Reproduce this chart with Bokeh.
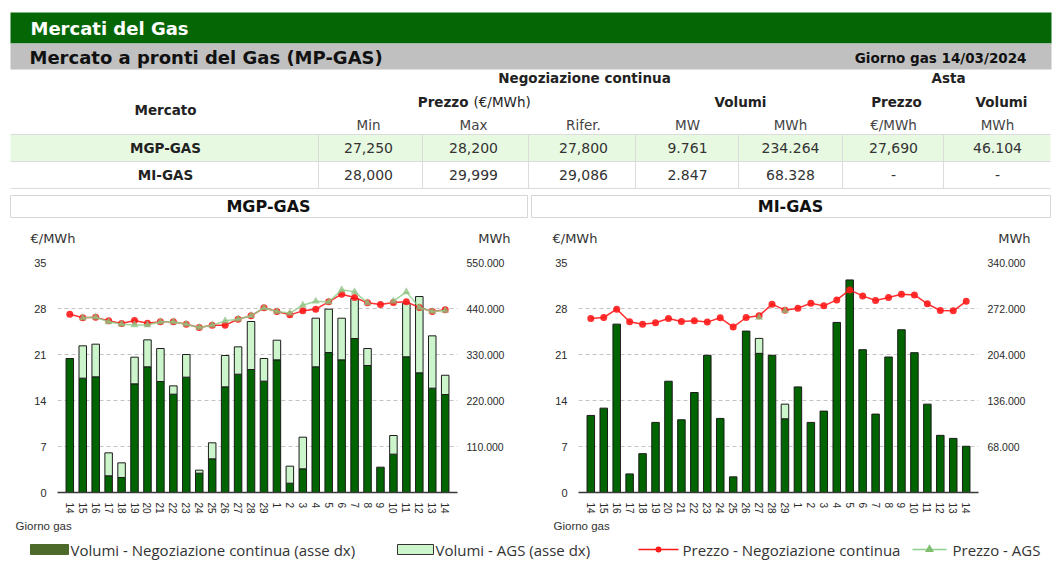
import math
from bokeh.plotting import figure
from bokeh.models import Range1d, LinearAxis, FixedTicker, ColumnDataSource
from bokeh.layouts import column, row
from bokeh.embed import file_html
from bokeh.resources import INLINE
from bokeh.core.properties import value

nan = float("nan")

# ---------------- data ----------------
days = ["14", "15", "16", "17", "18", "19", "20", "21", "22", "23", "24", "25", "26", "27", "28", "29",
        "1", "2", "3", "4", "5", "6", "7", "8", "9", "10", "11", "12", "13", "14"]

mgp_cont_vol = [320400, 273400, 276600, 39900, 35900, 259800, 300500, 265400, 235100, 275800,
                46200, 80500, 252600, 282900, 294100, 266200, 317200, 22300, 56600, 300500,
                334700, 317200, 368200, 303700, 60600, 91700, 324400, 286100, 249500, 234264]
mgp_ags_vol = [0, 77300, 78100, 54900, 35000, 63800, 64500, 78900, 19900, 54200,
               7200, 38300, 75000, 65400, 114800, 54200, 47000, 40700, 75700, 116300,
               103700, 99600, 95700, 40600, 0, 44600, 128300, 182500, 125100, 46104]
mgp_price = [27.14, 26.58, 26.68, 26.12, 25.72, 26.17, 25.77, 25.97, 25.97, 25.61,
             25.11, 25.46, 25.46, 26.37, 26.88, 28.10, 27.54, 27.03, 27.64, 27.90,
             29.01, 30.18, 29.67, 28.86, 28.61, 28.91, 29.01, 28.15, 27.54, 27.80]
mgp_ags_price = [nan, 26.58, 26.68, 25.97, 25.61, 25.50, 25.50, 25.97, 25.97, 25.61,
                 25.11, 25.46, 26.12, 26.37, 26.90, 28.10, 27.54, 27.30, 28.50, 29.10,
                 29.00, 30.84, 30.53, 28.86, nan, 29.11, 30.53, 28.15, 27.54, 27.69]

mi_cont_vol = [113900, 124700, 248900, 27500, 57400, 103600, 164500, 107500, 147800, 202800,
               109500, 23100, 238600, 205700, 202800, 109000, 156100, 103600, 120300, 251400,
               314200, 211100, 115900, 200300, 240600, 206700, 130600, 84500, 80000, 68328]
mi_ags_vol = [0, 0, 0, 0, 0, 0, 0, 0, 0, 0, 0, 0, 0, 22100, 0, 21600, 0, 0, 0, 0,
              0, 0, 0, 0, 0, 0, 0, 0, 0, 0]
mi_price = [26.48, 26.63, 27.90, 25.98, 25.62, 25.83, 26.48, 26.03, 26.13, 25.93,
            26.58, 25.17, 26.63, 26.89, 28.66, 27.75, 28.05, 28.81, 28.40, 29.31,
            30.83, 29.92, 29.21, 29.67, 30.17, 30.07, 28.71, 27.70, 27.65, 29.086]
mi_ags_price = [nan] * 13 + [26.63, nan, 27.65] + [nan] * 14

price_ticks = [0, 7, 14, 21, 28, 35]
mgp_vol_ticks = [110000, 220000, 330000, 440000, 550000]
mi_vol_ticks = [68000, 136000, 204000, 272000, 340000]

table_title = "Mercati del Gas"
table_subtitle = "Mercato a pronti del Gas (MP-GAS)"
table_date = "Giorno gas 14/03/2024"
sub_headers = ["Min", "Max", "Rifer.", "MW", "MWh", "€/MWh", "MWh"]
markets = ["MGP-GAS", "MI-GAS"]
table_rows = [["27,250", "28,200", "27,800", "9.761", "234.264", "27,690", "46.104"],
              ["28,000", "29,999", "29,086", "2.847", "68.328", "-", "-"]]

legend_labels = ["Volumi - Negoziazione continua (asse dx)", "Volumi - AGS (asse dx)",
                 "Prezzo - Negoziazione continua", "Prezzo - AGS"]

# ---------------- styles ----------------
FONT = "DejaVu Sans"
TFONT = "Liberation Sans"
LFONT = "Open Sans"
DARK = "#006400"
LIGHT = "#ccf5cc"
RED = "#ff1a1a"
AGS_C = "#8fcf8a"


def blank_fig(w, h):
    p = figure(width=w, height=h, x_range=Range1d(0, w), y_range=Range1d(h, 0),
               x_axis_type=None, y_axis_type=None, toolbar_location=None,
               output_backend="svg", min_border=0, outline_line_color=None)
    p.grid.visible = False
    p.background_fill_color = "white"
    p.border_fill_color = "white"
    return p


def txt(p, x, y, s, size="13px", bold=False, align="center", color="#222222", font=FONT):
    p.text(x=[x], y=[y], text=[s], text_font=value(font), text_font_size=size,
           text_font_style="bold" if bold else "normal", text_align=align,
           text_baseline="middle", text_color=color)


# ---------------- header + table ----------------
hdr = blank_fig(1059, 194)
hdr.quad(left=[10], right=[1051], top=[12], bottom=[43], fill_color="#056605", line_color=None)
hdr.quad(left=[10], right=[1051], top=[43], bottom=[69], fill_color="#c0c0c0", line_color=None)
txt(hdr, 30, 28, table_title, size="18px", bold=True, align="left", color="white")
txt(hdr, 29, 57, table_subtitle, size="18px", bold=True, align="left", color="#111111")
txt(hdr, 1026, 57, table_date, size="13.5px", bold=True, align="right", color="#111111")

txt(hdr, 584, 77, "Negoziazione continua", size="13.5px", bold=True)
txt(hdr, 948, 77, "Asta", size="13.5px", bold=True)
txt(hdr, 165, 109, "Mercato", size="13.5px", bold=True)
txt(hdr, 468, 101, "Prezzo", size="13.5px", bold=True, align="right")
txt(hdr, 473, 101, "(€/MWh)", size="13.5px", align="left")
txt(hdr, 740, 101, "Volumi", size="13.5px", bold=True)
txt(hdr, 896, 101, "Prezzo", size="13.5px", bold=True)
txt(hdr, 1001, 101, "Volumi", size="13.5px", bold=True)

col_centers = [368, 473, 583, 687, 790, 893, 997]
col_borders = [318, 422, 528, 635, 738, 842, 943]
for cx, s in zip(col_centers, sub_headers):
    txt(hdr, cx, 124, s, size="13.5px", color="#444444")

hdr.quad(left=[10], right=[1050], top=[134], bottom=[161], fill_color="#e8f9e2", line_color=None)
hdr.multi_line(xs=[[10, 1050]] * 3, ys=[[134, 134], [161, 161], [188, 188]],
               line_color="#dcdcdc", line_width=1)
hdr.multi_line(xs=[[b, b] for b in col_borders], ys=[[134, 188]] * len(col_borders),
               line_color="#dcdcdc", line_width=1)
for ry, m, vals in zip([147.5, 174.5], markets, table_rows):
    txt(hdr, 165, ry, m, size="13.5px", bold=True)
    for cx, v in zip(col_centers, vals):
        txt(hdr, cx, ry, v, size="14px", color="#333333")


# ---------------- panel titles + unit labels ----------------
def title_fig(w, box_l, box_r, title, cx, unit_l, unit_r):
    p = blank_fig(w, 56)
    p.quad(left=[box_l], right=[box_r], top=[1], bottom=[23],
           fill_color=None, line_color="#d6d6d6")
    txt(p, cx, 12, title, size="16px", bold=True, color="#111111")
    txt(p, unit_l, 44, "€/MWh", size="13px", align="left", color="#333333")
    txt(p, unit_r, 44, "MWh", size="13px", align="right", color="#333333")
    return p


tl = title_fig(529, 10, 527, "MGP-GAS", 268, 30, 510)
tr = title_fig(530, 2, 521, "MI-GAS", 261, 23, 501)


# ---------------- charts ----------------
def fmt_vol(v):
    return f"{v:,}".replace(",", ".")


def chart(w, bl, br, cont, ags, price, ags_price, vmax, vticks):
    p = figure(width=w, height=266, x_range=Range1d(-0.95, 29.95), y_range=Range1d(0, 35),
               toolbar_location=None, output_backend="svg",
               min_border_left=bl, min_border_right=br, min_border_top=12,
               min_border_bottom=23, outline_line_color=None)
    p.background_fill_color = "white"
    p.border_fill_color = "white"
    p.extra_y_ranges = {"vol": Range1d(0, vmax)}

    xs = list(range(len(days)))
    src = ColumnDataSource(dict(x=xs, cont=cont))
    p.vbar(x="x", width=0.58, bottom=0, top="cont", source=src, y_range_name="vol",
           fill_color=DARK, line_color="#1c1c1c", line_width=1)
    ai = [i for i in xs if ags[i] > 0]
    src2 = ColumnDataSource(dict(x=ai, b=[cont[i] for i in ai], t=[cont[i] + ags[i] for i in ai]))
    p.vbar(x="x", width=0.58, bottom="b", top="t", source=src2, y_range_name="vol",
           fill_color=LIGHT, line_color="#1c1c1c", line_width=1)

    p.line(xs, price, line_color=RED, line_width=1.5, line_alpha=0.9)
    p.scatter(xs, price, marker="circle", size=7, fill_color=RED, line_color=None, fill_alpha=0.9)
    p.line(xs, ags_price, line_color=AGS_C, line_width=1.5, line_alpha=0.85)
    p.scatter(xs, ags_price, marker="triangle", size=8, fill_color="#8fbf7f",
              line_color=None, fill_alpha=0.75)

    p.yaxis.ticker = FixedTicker(ticks=price_ticks)
    p.yaxis.axis_line_color = None
    p.yaxis.major_tick_line_color = None
    p.yaxis.minor_tick_line_color = None
    p.yaxis.major_label_standoff = 5
    p.yaxis.major_label_text_font = TFONT
    p.yaxis.major_label_text_font_size = "11px"
    p.yaxis.major_label_text_color = "#2a2a2a"

    p.xaxis.ticker = FixedTicker(ticks=xs)
    p.xaxis.major_label_overrides = {i: d for i, d in enumerate(days)}
    p.xaxis.major_label_orientation = -math.pi / 2
    p.xaxis.axis_line_color = "#3a3a3a"
    p.xaxis.axis_line_width = 1.5
    p.xaxis.major_tick_line_color = None
    p.xaxis.minor_tick_line_color = None
    p.xaxis.major_label_standoff = 4
    p.xaxis.major_label_text_font = TFONT
    p.xaxis.major_label_text_font_size = "10px"
    p.xaxis.major_label_text_color = "#2a2a2a"

    ax = LinearAxis(y_range_name="vol", ticker=FixedTicker(ticks=vticks),
                    major_label_overrides={t: fmt_vol(t) for t in vticks})
    ax.axis_line_color = None
    ax.major_tick_line_color = None
    ax.minor_tick_line_color = None
    ax.major_label_standoff = 3
    ax.major_label_text_font = TFONT
    ax.major_label_text_font_size = "10.5px"
    ax.major_label_text_color = "#2a2a2a"
    p.add_layout(ax, "right")

    p.xgrid.visible = False
    p.ygrid.grid_line_color = "#c4c4c4"
    p.ygrid.grid_line_dash = "4 3"
    p.ygrid.grid_line_width = 1
    return p


cl = chart(529, 57, 72, mgp_cont_vol, mgp_ags_vol, mgp_price, mgp_ags_price, 550000, mgp_vol_ticks)
cr = chart(530, 49, 81, mi_cont_vol, mi_ags_vol, mi_price, mi_ags_price, 340000, mi_vol_ticks)

# ---------------- x label + legend ----------------
leg = blank_fig(1059, 49)
txt(leg, 15, 9, "Giorno gas", size="11.5px", align="left", color="#333333", font=TFONT)
txt(leg, 553, 9, "Giorno gas", size="11.5px", align="left", color="#333333", font=TFONT)
LY = 33
LSIZE = "15px"
leg.quad(left=[30], right=[68], top=[LY - 5], bottom=[LY + 5], fill_color="#4d6a2b",
         line_color="#4d6a2b")
txt(leg, 70, LY, legend_labels[0], size=LSIZE, align="left", color="#333333", font=LFONT)
leg.quad(left=[397], right=[433], top=[LY - 5], bottom=[LY + 5], fill_color=LIGHT,
         line_color="#333333")
txt(leg, 435, LY, legend_labels[1], size=LSIZE, align="left", color="#333333", font=LFONT)
leg.line([638, 678], [LY, LY], line_color=RED, line_width=1.6)
leg.scatter([658], [LY], marker="circle", size=6, fill_color=RED, line_color=None)
txt(leg, 682, LY, legend_labels[2], size=LSIZE, align="left", color="#333333", font=LFONT)
leg.line([912, 946], [LY, LY], line_color=AGS_C, line_width=1.6)
leg.scatter([929], [LY], marker="triangle", size=9, fill_color="#7fbf6f", line_color=None)
txt(leg, 952, LY, legend_labels[3], size=LSIZE, align="left", color="#333333", font=LFONT)

layout = column(hdr, row(tl, tr, spacing=0), row(cl, cr, spacing=0), leg, spacing=0)

with open("out.html", "w") as f:
    f.write(file_html(layout, INLINE))
